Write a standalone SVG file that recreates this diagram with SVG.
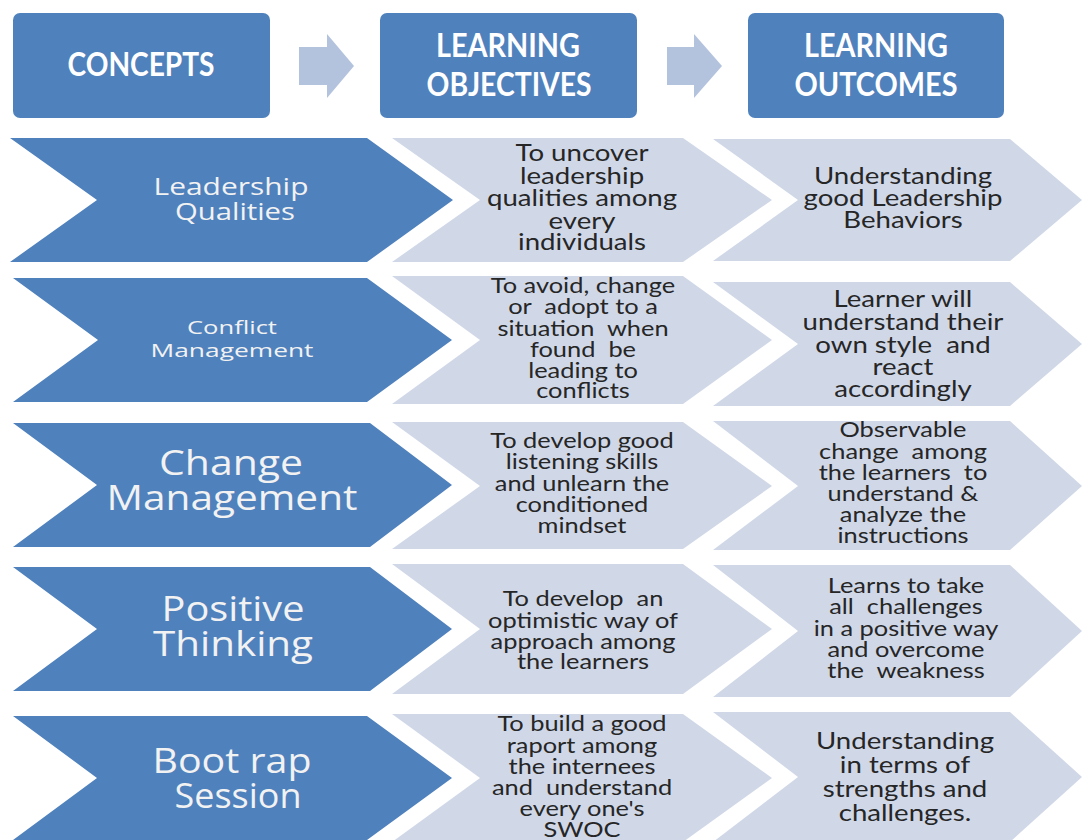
<svg xmlns="http://www.w3.org/2000/svg" width="1083" height="840" viewBox="0 0 1083 840">
<style>
.hdr{fill:#4F81BD}
.hdrt{font-family:Lato,"Open Sans",sans-serif;font-weight:bold;font-size:33px;fill:#FFFFFF;text-anchor:middle}
.arr{fill:#B3C2DD}
.blue{fill:#4F81BD}
.lite{fill:#D0D8E8}
.bt{font-family:"Open Sans","DejaVu Sans",sans-serif;fill:#F2F2F2;text-anchor:middle}
.lt{font-family:Lato,"Open Sans",sans-serif;fill:#262626;text-anchor:middle}
.lg{font-size:24px}
.sm{font-size:22px}
</style>
<rect width="1083" height="840" fill="#FFFFFF"/>
<g id="header-concepts"><rect class="hdr" x="13" y="13" width="257" height="105" rx="7"/><text class="hdrt" x="141" y="76" textLength="147" lengthAdjust="spacingAndGlyphs">CONCEPTS</text></g>
<g id="header-objectives"><rect class="hdr" x="380" y="13" width="257" height="105" rx="7"/><text class="hdrt" x="508" y="57" textLength="144" lengthAdjust="spacingAndGlyphs">LEARNING</text><text class="hdrt" x="509" y="96" textLength="165" lengthAdjust="spacingAndGlyphs">OBJECTIVES</text></g>
<g id="header-outcomes"><rect class="hdr" x="748" y="13" width="256" height="105" rx="7"/><text class="hdrt" x="876" y="57" textLength="144" lengthAdjust="spacingAndGlyphs">LEARNING</text><text class="hdrt" x="876" y="96" textLength="163" lengthAdjust="spacingAndGlyphs">OUTCOMES</text></g>
<g id="connectors">
<path class="arr" d="M299,47 H327 V34 L354,66 L327,98 V85 H299 Z"/>
<path class="arr" d="M667,47 H694 V34 L722,66 L694,98 V85 H667 Z"/>
</g>
<!-- Row 1 -->
<g id="concept-1"><path class="blue" d="M10,138 H367 L453,200 L367,262 H10 L97,200 Z"/>
<text class="bt" font-size="23" x="231" y="195" textLength="155" lengthAdjust="spacingAndGlyphs">Leadership</text>
<text class="bt" font-size="23" x="235" y="220" textLength="120" lengthAdjust="spacingAndGlyphs">Qualities</text></g>
<g id="objective-1"><path class="lite" d="M392,138 H683 L772,200 L683,262 H392 L480,200 Z"/>
<text class="lt lg" xml:space="preserve" transform="translate(582 0) scale(1.15 1)"><tspan x="0" y="161">To uncover</tspan><tspan x="0" y="184">leadership</tspan><tspan x="0" y="206">qualities among</tspan><tspan x="0" y="229">every</tspan><tspan x="0" y="250">individuals</tspan></text></g>
<g id="outcome-1"><path class="lite" d="M713,139 H1010 L1082,200 L1010,261 H713 L798,200 Z"/>
<text class="lt lg" xml:space="preserve" transform="translate(903 0) scale(1.15 1)"><tspan x="0" y="184">Understanding</tspan><tspan x="0" y="206">good Leadership</tspan><tspan x="0" y="228">Behaviors</tspan></text></g>
<!-- Row 2 -->
<g id="concept-2"><path class="blue" d="M13,278 H367 L452,340 L367,402 H13 L98,340 Z"/>
<text class="bt" font-size="19" x="232" y="334" textLength="90" lengthAdjust="spacingAndGlyphs">Conflict</text>
<text class="bt" font-size="19" x="232" y="357" textLength="163" lengthAdjust="spacingAndGlyphs">Management</text></g>
<g id="objective-2"><path class="lite" d="M392,276 H683 L772,340 L683,404 H392 L480,340 Z"/>
<text class="lt sm" xml:space="preserve" transform="translate(583 0) scale(1.155 1)"><tspan x="0" y="293">To avoid, change</tspan><tspan x="0" y="314">or  adopt to a</tspan><tspan x="0" y="336">situation  when</tspan><tspan x="0" y="357">found  be</tspan><tspan x="0" y="378">leading to</tspan><tspan x="0" y="398">conflicts</tspan></text></g>
<g id="outcome-2"><path class="lite" d="M713,282 H1010 L1082,344 L1010,406 H713 L798,344 Z"/>
<text class="lt lg" xml:space="preserve" transform="translate(903 0) scale(1.15 1)"><tspan x="0" y="307">Learner will</tspan><tspan x="0" y="330">understand their</tspan><tspan x="0" y="353">own style  and</tspan><tspan x="0" y="375">react</tspan><tspan x="0" y="397">accordingly</tspan></text></g>
<!-- Row 3 -->
<g id="concept-3"><path class="blue" d="M13,423 H370 L452,485 L370,547 H13 L97,485 Z"/>
<text class="bt" font-size="34" x="231" y="475" textLength="144" lengthAdjust="spacingAndGlyphs">Change</text>
<text class="bt" font-size="34" x="232" y="510" textLength="251" lengthAdjust="spacingAndGlyphs">Management</text></g>
<g id="objective-3"><path class="lite" d="M392,422 H683 L772,486 L683,549 H392 L480,486 Z"/>
<text class="lt sm" xml:space="preserve" transform="translate(582 0) scale(1.155 1)"><tspan x="0" y="448">To develop good</tspan><tspan x="0" y="469">listening skills</tspan><tspan x="0" y="491">and unlearn the</tspan><tspan x="0" y="512">conditioned</tspan><tspan x="0" y="533">mindset</tspan></text></g>
<g id="outcome-3"><path class="lite" d="M713,421 H1010 L1082,486 L1010,550 H713 L798,486 Z"/>
<text class="lt sm" xml:space="preserve" transform="translate(903 0) scale(1.155 1)"><tspan x="0" y="437">Observable</tspan><tspan x="0" y="459">change  among</tspan><tspan x="0" y="480">the learners  to</tspan><tspan x="0" y="501">understand &amp;</tspan><tspan x="0" y="522">analyze the</tspan><tspan x="0" y="543">instructions</tspan></text></g>
<!-- Row 4 -->
<g id="concept-4"><path class="blue" d="M13,567 H370 L452,629 L370,691 H13 L97,629 Z"/>
<text class="bt" font-size="34" x="233" y="621" textLength="143" lengthAdjust="spacingAndGlyphs">Positive</text>
<text class="bt" font-size="34" x="233" y="656" textLength="160" lengthAdjust="spacingAndGlyphs">Thinking</text></g>
<g id="objective-4"><path class="lite" d="M392,564 H683 L772,629 L683,694 H392 L480,629 Z"/>
<text class="lt sm" xml:space="preserve" transform="translate(583 0) scale(1.155 1)"><tspan x="0" y="606">To develop  an</tspan><tspan x="0" y="628">optimistic way of</tspan><tspan x="0" y="649">approach among</tspan><tspan x="0" y="669">the learners</tspan></text></g>
<g id="outcome-4"><path class="lite" d="M713,565 H1010 L1082,631 L1010,697 H713 L798,631 Z"/>
<text class="lt sm" xml:space="preserve" transform="translate(906 0) scale(1.155 1)"><tspan x="0" y="593">Learns to take</tspan><tspan x="0" y="614">all  challenges</tspan><tspan x="0" y="636">in a positive way</tspan><tspan x="0" y="657">and overcome</tspan><tspan x="0" y="678">the  weakness</tspan></text></g>
<!-- Row 5 -->
<g id="concept-5"><path class="blue" d="M13,716 H367 L452,778 L367,840 H13 L97,778 Z"/>
<text class="bt" font-size="34" x="232" y="773" textLength="159" lengthAdjust="spacingAndGlyphs">Boot rap</text>
<text class="bt" font-size="34" x="238" y="808" textLength="127" lengthAdjust="spacingAndGlyphs">Session</text></g>
<g id="objective-5"><path class="lite" d="M392,714 H683 L772,778 L683,842 H392 L480,778 Z"/>
<text class="lt sm" xml:space="preserve" transform="translate(582 0) scale(1.155 1)"><tspan x="0" y="731">To build a good</tspan><tspan x="0" y="753">raport among</tspan><tspan x="0" y="774">the internees</tspan><tspan x="0" y="795">and  understand</tspan><tspan x="0" y="816">every one's</tspan><tspan x="0" y="837">SWOC</tspan></text></g>
<g id="outcome-5"><path class="lite" d="M713,712 H1010 L1082,777 L1010,842 H713 L798,777 Z"/>
<text class="lt lg" xml:space="preserve" transform="translate(905 0) scale(1.15 1)"><tspan x="0" y="749">Understanding</tspan><tspan x="0" y="773">in terms of</tspan><tspan x="0" y="797">strengths and</tspan><tspan x="0" y="821">challenges.</tspan></text></g>
</svg>
